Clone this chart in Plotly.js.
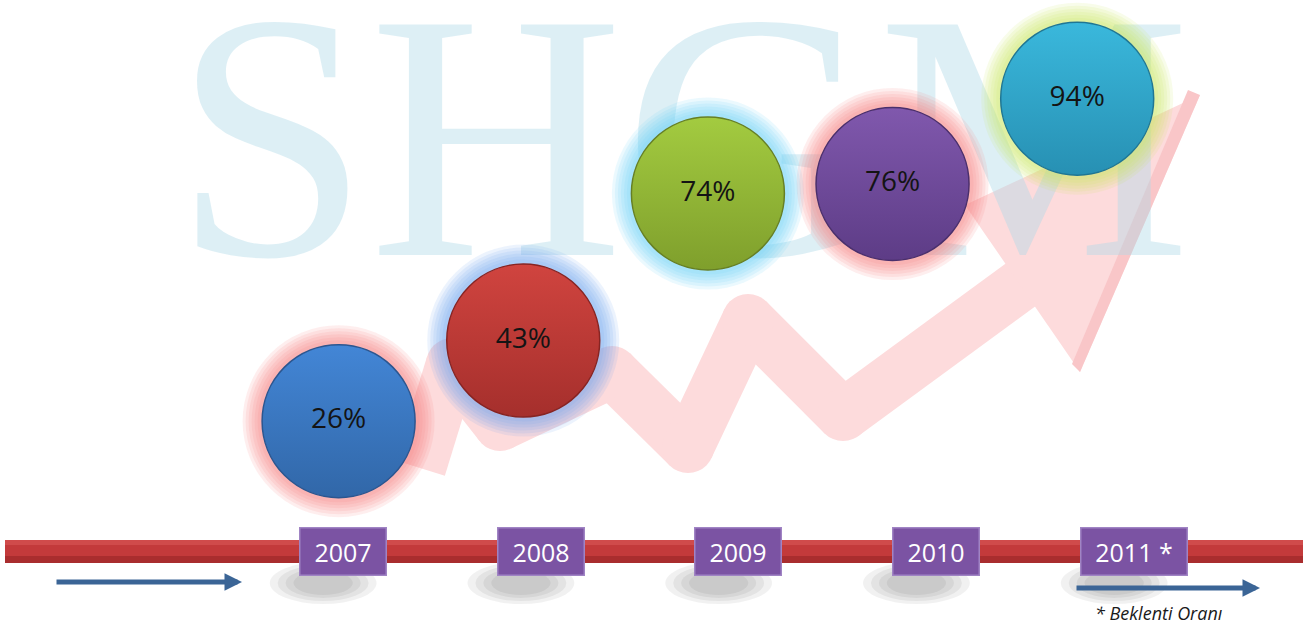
<!DOCTYPE html>
<html><head><meta charset="utf-8">
<script src="https://cdn.plot.ly/plotly-3.0.1.min.js"></script>
<style>html,body{margin:0;padding:0;background:#fff;}#chart{width:1307px;height:626px;}</style>
</head><body><div id="chart"></div>
<script>
// ---- data ----
const years = [2007, 2008, 2009, 2010, 2011];
const yearLabels = ['2007', '2008', '2009', '2010', '2011 *'];
const rates = [26, 43, 74, 76, 94];
const rateLabels = rates.map(v => v + '%');
const noteText = '* Beklenti Oranı';
const watermarkText = 'SHGM';

// ---- styles ----
const W = 1307, H = 626;
const bubbleTop = ['#4386d6', '#d0443f', '#a3cb40', '#8058ad', '#3ab8dc'];
const bubbleBottom = ['#3167a8', '#a52f2c', '#7f9f2c', '#5d3c86', '#2790b3'];
const bubbleEdge = ['#2b5690', '#872422', '#667f24', '#4a2f6c', '#1f7694'];
const glow = ['rgba(245,120,120,', 'rgba(110,165,240,', 'rgba(100,205,245,', 'rgba(245,120,120,', 'rgba(200,228,95,'];
const font = '"Open Sans", "Noto Sans", sans-serif';
const pink = '#fddbdc';

const px = (x) => x / W;
const py = (y) => 1 - y / H;
const P = (x, y) => `${px(x)},${py(y)}`;

const traces = [];
// watermark
traces.push({
  x: [2008.86], y: [79.6], xaxis: 'x', yaxis: 'y', mode: 'text', text: [watermarkText],
  textposition: 'middle center', hoverinfo: 'skip', showlegend: false,
  textfont: {family: '"Liberation Serif", "DejaVu Serif", serif', size: 352, color: 'rgba(175,218,232,0.42)'}
});
// soft glows
[192, 186, 180, 174, 168, 162].forEach((s) => {
  traces.push({
    x: years, y: rates, mode: 'markers', hoverinfo: 'skip', showlegend: false,
    marker: {size: s, color: glow.map(g => g + '0.13)'), line: {width: 0}}
  });
});
// bubbles
traces.push({
  x: years, y: rates, mode: 'markers+text', text: rateLabels, textposition: 'middle center',
  hoverinfo: 'skip', showlegend: false,
  textfont: {family: font, size: 28, color: '#141414'},
  marker: {size: 153, color: bubbleTop, line: {width: 1.5, color: bubbleEdge},
           gradient: {type: 'vertical', color: bubbleBottom}}
});

const shapes = [];
// pink rising zig-zag arrow (decoration)
const band = [[420, 468], [452, 364], [500, 425], [612, 372], [688, 447], [748, 320], [843, 415], [1030, 278]];
const bw = 52;
for (let i = 0; i < band.length - 1; i++) {
  shapes.push({type: 'path', xref: 'paper', yref: 'paper', layer: 'below',
    path: 'M' + P(band[i][0], band[i][1]) + 'L' + P(band[i + 1][0], band[i + 1][1]),
    line: {color: pink, width: bw}});
}
for (let i = 1; i < band.length - 1; i++) {
  shapes.push({type: 'circle', xref: 'paper', yref: 'paper', layer: 'below',
    x0: px(band[i][0] - bw / 2), x1: px(band[i][0] + bw / 2),
    y0: py(band[i][1] + bw / 2), y1: py(band[i][1] - bw / 2),
    fillcolor: pink, line: {width: 0}});
}
shapes.push({type: 'path', xref: 'paper', yref: 'paper', layer: 'below',
  path: 'M' + P(1200, 95) + 'L' + P(965, 205) + 'L' + P(1080, 372) + 'Z',
  line: {width: 0}, fillcolor: pink});
shapes.push({type: 'path', xref: 'paper', yref: 'paper', layer: 'below',
  path: 'M' + P(1200, 95) + 'L' + P(1080, 372) + 'L' + P(1072, 364) + 'L' + P(1188, 90) + 'Z',
  line: {width: 0}, fillcolor: '#f9c6c8'});
// box shadows (soft, offset to lower-left)
years.forEach(yr => {
  [[0.27, 18], [0.23, 15], [0.19, 12], [0.15, 9]].forEach(([w, h]) => {
    shapes.push({type: 'circle', xref: 'x2', yref: 'paper', layer: 'below',
      x0: yr - w - 0.1, x1: yr + w - 0.1, y0: py(586 + h), y1: py(586 - h - 6),
      fillcolor: 'rgba(0,0,0,0.055)', line: {width: 0}});
  });
});
// red timeline bar
shapes.push({type: 'rect', xref: 'paper', yref: 'paper', layer: 'below',
  x0: px(5), x1: px(1303), y0: py(563), y1: py(540), fillcolor: '#c33a3b', line: {width: 0}});
shapes.push({type: 'rect', xref: 'paper', yref: 'paper', layer: 'below',
  x0: px(5), x1: px(1303), y0: py(563), y1: py(556), fillcolor: '#a92d2e', line: {width: 0}});
shapes.push({type: 'rect', xref: 'paper', yref: 'paper', layer: 'below',
  x0: px(5), x1: px(1303), y0: py(545), y1: py(540), fillcolor: '#d04b4b', line: {width: 0}});

const annotations = [];
yearLabels.forEach((t, i) => {
  annotations.push({
    xref: 'x2', yref: 'paper', x: years[i], y: py(551), xanchor: 'center', yanchor: 'middle',
    text: t, showarrow: false,
    font: {family: font, size: 25, color: '#ffffff'},
    bgcolor: '#7b53a3', bordercolor: '#a084c4', borderwidth: 1.5, borderpad: 5,
    height: 36, width: t.length > 4 ? 95 : 75
  });
});
// blue direction arrows
[[242, 582, 187], [1260, 588, 185]].forEach(([x, y, len]) => {
  annotations.push({xref: 'paper', yref: 'paper', x: px(x), y: py(y), ax: -len, ay: 0,
    axref: 'pixel', ayref: 'pixel', text: '', showarrow: true, arrowhead: 2, arrowsize: 0.7,
    arrowwidth: 5, arrowcolor: '#3b6596', standoff: 0, startstandoff: 0});
});
annotations.push({xref: 'paper', yref: 'paper', x: px(1159), y: py(613), xanchor: 'center', yanchor: 'middle',
  text: '<i>' + noteText + '</i>',
  showarrow: false, font: {family: font, size: 18, color: '#1a1a1a'}});

const layout = {
  width: W, height: H, margin: {l: 0, r: 0, t: 0, b: 0, pad: 0},
  paper_bgcolor: '#ffffff', plot_bgcolor: 'rgba(0,0,0,0)', showlegend: false,
  xaxis: {range: [2005.1663, 2012.2445], visible: false, fixedrange: true},
  xaxis2: {range: [2005.266, 2011.875], overlaying: 'x', visible: false, fixedrange: true},
  yaxis: {range: [-17.18, 114.8], visible: false, fixedrange: true},
  shapes: shapes, annotations: annotations
};
Plotly.newPlot('chart', traces, layout, {displayModeBar: false, staticPlot: true});
</script></body></html>
